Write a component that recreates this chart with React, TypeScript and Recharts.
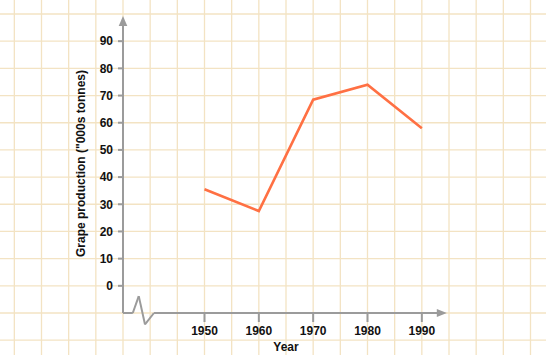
import React from 'react';
import { LineChart, Line, XAxis, YAxis, CartesianGrid, ReferenceLine } from 'recharts';

const years = [1950, 1960, 1970, 1980, 1990];
const production = [35.5, 27.5, 68.5, 74, 58];
const yTicks = [0, 10, 20, 30, 40, 50, 60, 70, 80, 90];
const xTicks = [1950, 1960, 1970, 1980, 1990];
const xDomain = [1935, 1995];
const yDomain = [-10, 100];
const gridYears = [1910, 1915, 1920, 1925, 1930, 1935, 1940, 1945, 1950, 1955, 1960, 1965, 1970, 1975, 1980, 1985, 1990, 1995, 2000, 2005, 2010, 2015];
const gridValues = [-40, -30, -20, -10, 0, 10, 20, 30, 40, 50, 60, 70, 80, 90, 100, 110];
// axis break (zigzag) on the x axis, in data units
const breakX = [1935, 1936.8, 1937.9, 1939.05, 1940.7];
const breakY = [-10, -10, -3.8, -14.2, -10];
const xAxisEnd = 1994.6;
const yAxisEnd = 99.3;

const data = years.map((y, i) => ({ year: y, value: production[i] }));

const W = 546;
const H = 355;
const margin = { top: 14, right: 97, left: 0, bottom: 0 };
const Y_W = 123;
const X_H = 42;
const plotL = margin.left + Y_W;
const plotR = W - margin.right;
const plotT = margin.top;
const plotB = H - margin.bottom - X_H;

const AXIS = '#9b9b9b';
const GRID = '#f3e3c3';
const FONT = '"Liberation Sans", Arial, sans-serif';

const fx = (v: number) => plotL + ((v - xDomain[0]) / (xDomain[1] - xDomain[0])) * (plotR - plotL);
const fy = (v: number) => plotB - ((v - yDomain[0]) / (yDomain[1] - yDomain[0])) * (plotB - plotT);

const Seg = (props: any) => {
  const { x1, y1, x2, y2 } = props;
  return <line x1={x1} y1={y1} x2={x2} y2={y2} stroke={AXIS} strokeWidth={2} strokeLinecap="butt" />;
};

const YArrow = (props: any) => {
  const { x1, y1, x2, y2 } = props;
  const top = Math.min(y1, y2);
  const bot = Math.max(y1, y2);
  return (
    <g>
      <line x1={x1} y1={bot} x2={x1} y2={top + 8} stroke={AXIS} strokeWidth={2} />
      <polygon points={`${x1},${top} ${x1 - 4.3},${top + 10} ${x1 + 4.3},${top + 10}`} fill={AXIS} />
    </g>
  );
};

const XArrow = (props: any) => {
  const { x1, y1, x2 } = props;
  const l = Math.min(x1, x2);
  const r = Math.max(x1, x2);
  return (
    <g>
      <line x1={l} y1={y1} x2={r - 8} y2={y1} stroke={AXIS} strokeWidth={2} />
      <polygon points={`${r},${y1} ${r - 10},${y1 - 4} ${r - 10},${y1 + 4}`} fill={AXIS} />
    </g>
  );
};

const tickStyle = { fontFamily: FONT, fontSize: 12, fontWeight: 700, fill: '#111' };

export default function App() {
  const vGen = (args: any) => {
    const s = args && args.xAxis && args.xAxis.scale;
    return gridYears.map((v) => (typeof s === 'function' ? s(v) : fx(v)));
  };
  const hGen = (args: any) => {
    const s = args && args.yAxis && args.yAxis.scale;
    return gridValues.map((v) => (typeof s === 'function' ? s(v) : fy(v)));
  };
  return (
    <div style={{ position: 'absolute', left: 0, top: 0, width: W, height: H, background: '#fff' }}>
      <LineChart width={W} height={H} data={data} margin={margin}>
        <CartesianGrid
          x={0}
          y={0}
          width={W}
          height={H}
          stroke={GRID}
          strokeWidth={1.3}
          verticalCoordinatesGenerator={vGen}
          horizontalCoordinatesGenerator={hGen}
        />
        <XAxis
          dataKey="year"
          type="number"
          domain={xDomain}
          ticks={xTicks}
          allowDataOverflow
          height={X_H}
          axisLine={false}
          tickLine={{ stroke: AXIS, strokeWidth: 2 }}
          tickSize={9}
          tickMargin={4}
          tick={tickStyle}
          label={{ value: 'Year', position: 'insideBottom', offset: 4, style: { ...tickStyle, textAnchor: 'middle' } }}
        />
        <YAxis
          type="number"
          domain={yDomain}
          ticks={yTicks}
          allowDataOverflow
          width={Y_W}
          axisLine={false}
          tickLine={{ stroke: AXIS, strokeWidth: 2 }}
          tickSize={5}
          tickMargin={5}
          tick={tickStyle}
          label={{
            value: 'Grape production ("000s tonnes)',
            angle: -90,
            position: 'insideLeft',
            offset: 81,
            style: { ...tickStyle, textAnchor: 'middle' },
          }}
        />
        <ReferenceLine
          ifOverflow="visible"
          segment={[{ x: xDomain[0], y: yDomain[0] }, { x: xDomain[0], y: yAxisEnd }]}
          shape={YArrow}
        />
        {breakX.slice(0, -1).map((bx, i) => (
          <ReferenceLine
            key={i}
            ifOverflow="visible"
            segment={[{ x: bx, y: breakY[i] }, { x: breakX[i + 1], y: breakY[i + 1] }]}
            shape={Seg}
          />
        ))}
        <ReferenceLine
          ifOverflow="visible"
          segment={[{ x: breakX[breakX.length - 1], y: breakY[breakY.length - 1] }, { x: xAxisEnd, y: yDomain[0] }]}
          shape={XArrow}
        />
        <Line
          type="linear"
          dataKey="value"
          stroke="#ff7043"
          strokeWidth={2.6}
          dot={false}
          isAnimationActive={false}
        />
      </LineChart>
    </div>
  );
}
